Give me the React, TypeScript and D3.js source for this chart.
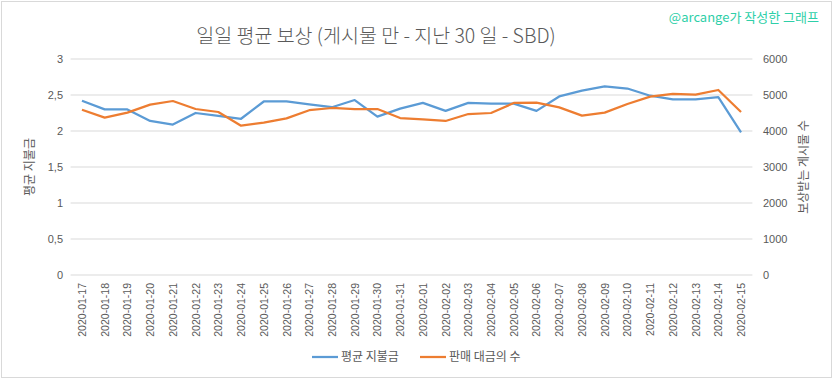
import React from "react";
import * as d3 from "d3";

const dates = [
  "2020-01-17","2020-01-18","2020-01-19","2020-01-20","2020-01-21","2020-01-22","2020-01-23","2020-01-24","2020-01-25","2020-01-26",
  "2020-01-27","2020-01-28","2020-01-29","2020-01-30","2020-01-31","2020-02-01","2020-02-02","2020-02-03","2020-02-04","2020-02-05",
  "2020-02-06","2020-02-07","2020-02-08","2020-02-09","2020-02-10","2020-02-11","2020-02-12","2020-02-13","2020-02-14","2020-02-15",
];
const avgPayout = [
  2.42, 2.30, 2.30, 2.14, 2.09, 2.25, 2.21, 2.17, 2.41, 2.41,
  2.37, 2.33, 2.43, 2.20, 2.31, 2.39, 2.28, 2.39, 2.38, 2.38,
  2.28, 2.48, 2.56, 2.62, 2.59, 2.49, 2.44, 2.44, 2.47, 1.98,
];
const postCount = [
  4592, 4370, 4509, 4731, 4833, 4611, 4528, 4148, 4231, 4352,
  4578, 4639, 4611, 4611, 4361, 4324, 4278, 4472, 4500, 4778,
  4787, 4657, 4426, 4509, 4750, 4954, 5028, 5009, 5139, 4528,
];
const leftTicks = [0, 0.5, 1, 1.5, 2, 2.5, 3];
const rightTicks = [0, 1000, 2000, 3000, 4000, 5000, 6000];

const W = 833, H = 379;
const plotL = 70.6, plotR = 752.4, plotT = 59, plotB = 275;
const BLUE = "#5b9bd5", ORANGE = "#ed7d31", TXT = "#595959", GRID = "#d9d9d9";
const KR = "'Noto Sans CJK KR', 'Noto Sans', sans-serif";
const NUM = "'Liberation Sans', 'DejaVu Sans', sans-serif";

export default function App() {
  const x = d3.scalePoint<string>().domain(dates).range([plotL, plotR]).padding(0.5);
  const yL = d3.scaleLinear().domain([0, 3]).range([plotB, plotT]);
  const yR = d3.scaleLinear().domain([0, 6000]).range([plotB, plotT]);
  const lineL = d3.line<number>().x((_, i) => x(dates[i])!).y((d) => yL(d));
  const lineR = d3.line<number>().x((_, i) => x(dates[i])!).y((d) => yR(d));
  const fmtL = (v: number) => String(v).replace(".", ",");

  return (
    <svg width={W} height={H} style={{ position: "absolute", left: 0, top: 0, background: "#fff" }}>
      <rect x={1.5} y={1.5} width={W - 3} height={H - 3} fill="#fff" stroke={GRID} strokeWidth={1} />
      <text x={376} y={43} textAnchor="middle" fontFamily={KR} fontWeight={300} fontSize={19.5} fill={TXT}>
        일일 평균 보상 (게시물 만 - 지난 30 일 - SBD)
      </text>
      <text x={819} y={22} textAnchor="end" fontFamily={KR} fontSize={13} fill="#2ecfa8">
        @arcange가 작성한 그래프
      </text>
      {leftTicks.map((t) => (
        <g key={t}>
          <line x1={plotL} x2={plotR} y1={yL(t)} y2={yL(t)} stroke={GRID} strokeWidth={1} />
          <text x={63} y={yL(t) + 4} textAnchor="end" fontFamily={NUM} fontSize={11} fill={TXT}>
            {fmtL(t)}
          </text>
        </g>
      ))}
      {rightTicks.map((t) => (
        <text key={t} x={763} y={yR(t) + 4} textAnchor="start" fontFamily={NUM} fontSize={11} fill={TXT}>
          {t}
        </text>
      ))}
      {dates.map((d) => (
        <text
          key={d}
          transform={`translate(${x(d)! + 4},283) rotate(-90)`}
          textAnchor="end"
          fontFamily={NUM}
          fontSize={10.5}
          fill={TXT}
        >
          {d}
        </text>
      ))}
      <text transform={`translate(34,167) rotate(-90)`} textAnchor="middle" fontFamily={KR} fontSize={12} fill={TXT}>
        평균 지불금
      </text>
      <text transform={`translate(808,167) rotate(-90)`} textAnchor="middle" fontFamily={KR} fontSize={12} fill={TXT}>
        보상받는 게시물 수
      </text>
      <path d={lineL(avgPayout)!} fill="none" stroke={BLUE} strokeWidth={2.25} strokeLinejoin="round" />
      <path d={lineR(postCount)!} fill="none" stroke={ORANGE} strokeWidth={2.25} strokeLinejoin="round" />
      <line x1={312} x2={338} y1={357} y2={357} stroke={BLUE} strokeWidth={2.25} />
      <text x={341} y={361} fontFamily={KR} fontSize={12} fill={TXT}>평균 지불금</text>
      <line x1={420} x2={446} y1={357} y2={357} stroke={ORANGE} strokeWidth={2.25} />
      <text x={449} y={361} fontFamily={KR} fontSize={12} fill={TXT}>판매 대금의 수</text>
    </svg>
  );
}
